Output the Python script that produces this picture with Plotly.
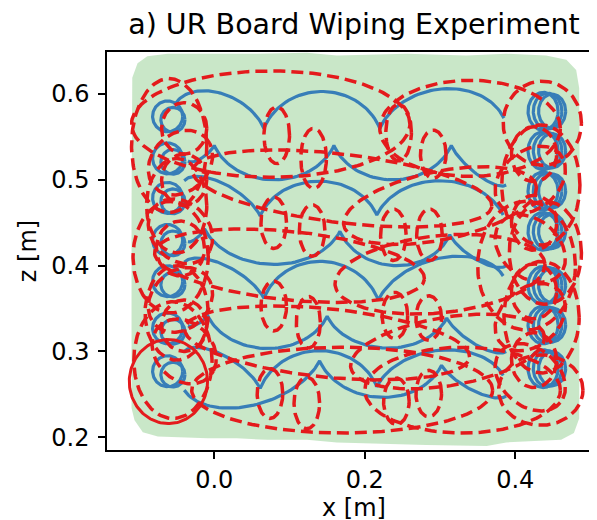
import numpy as np
import plotly.graph_objects as go

# ---------------- data ----------------
x_ticks = [0.0, 0.2, 0.4]
x_ticklabels = ["0.0", "0.2", "0.4"]
y_ticks = [0.2, 0.3, 0.4, 0.5, 0.6]
y_ticklabels = ["0.2", "0.3", "0.4", "0.5", "0.6"]

# wiped board area (boundary)
green_x = [-0.109, -0.102, -0.089, -0.062, 0.057, 0.123, 0.163, 0.256, 0.335, 0.388, 0.441, 0.468,
           0.481, 0.485, 0.486, 0.486, 0.485, 0.478, 0.461, 0.388, 0.362, 0.282, 0.229, 0.163,
           0.123, 0.070, 0.030, -0.009, -0.075, -0.095, -0.106, -0.110, -0.110]
green_y = [0.619, 0.636, 0.644, 0.647, 0.647, 0.648, 0.645, 0.647, 0.645, 0.647, 0.645, 0.640,
           0.628, 0.607, 0.467, 0.315, 0.222, 0.205, 0.197, 0.194, 0.190, 0.191, 0.192, 0.194,
           0.197, 0.197, 0.199, 0.199, 0.201, 0.206, 0.220, 0.234, 0.467]

# blue trajectory: horizontal passes (knots, knot heights, arch bulges)
rows_x = [
    [-0.053, 0.066, 0.220, 0.385],
    [-0.035, 0.000, 0.159, 0.315, 0.388],
    [-0.040, 0.061, 0.216, 0.384],
    [-0.035, -0.013, 0.167, 0.313, 0.388],
    [-0.040, 0.066, 0.218, 0.384],
    [-0.035, -0.009, 0.150, 0.309, 0.388],
    [-0.040, 0.061, 0.216, 0.384],
    [-0.040, 0.140, 0.302, 0.388],
]
rows_y = [
    [0.587, 0.560, 0.560, 0.572],
    [0.522, 0.540, 0.540, 0.540, 0.494],
    [0.499, 0.458, 0.459, 0.459],
    [0.428, 0.443, 0.440, 0.436, 0.400],
    [0.404, 0.362, 0.360, 0.388],
    [0.330, 0.342, 0.341, 0.339, 0.300],
    [0.300, 0.257, 0.259, 0.272],
    [0.255, 0.289, 0.284, 0.248],
]
rows_bulge = [
    [0.028, 0.043, 0.040],
    [-0.006, -0.040, -0.040, -0.012],
    [0.018, 0.040, 0.040],
    [-0.004, -0.040, -0.038, -0.012],
    [0.018, 0.044, 0.035],
    [-0.004, -0.038, -0.036, -0.012],
    [0.018, 0.043, 0.036],
    [-0.035, -0.040, -0.012],
]

# turn-around loops
left_loop_x = -0.062
left_loop_y = [0.574, 0.525, 0.479, 0.430, 0.382, 0.327, 0.277]
right_loop_x = 0.437
right_loop_y = [0.580, 0.534, 0.487, 0.440, 0.377, 0.331, 0.280]
loop_rx = 0.020
loop_ry = [0.018, 0.022]

# red covariance ellipses (dashed): small pairs, wide row ellipses, left column, right column
ell_cx = [0.083, 0.132, 0.245, 0.291, 0.079, 0.130, 0.238, 0.286, 0.079, 0.125, 0.240, 0.285,
          0.074, 0.123, 0.242, 0.285,
          0.075, 0.340, 0.170, 0.300, 0.100, 0.300, 0.150, 0.310, 0.170, 0.330,
          -0.060, -0.050, -0.058, -0.050, -0.055, -0.040, -0.045, -0.040, -0.040,
          -0.045, -0.045, -0.045, -0.040,
          0.436, 0.434, 0.440, 0.435, 0.434, 0.425, 0.425, 0.425, 0.425,
          0.420, 0.420, 0.420, 0.420, 0.415]
ell_cy = [0.552, 0.525, 0.555, 0.530, 0.450, 0.441, 0.436, 0.436, 0.353, 0.334, 0.342, 0.339,
          0.251, 0.240, 0.242, 0.251,
          0.565, 0.560, 0.490, 0.470, 0.400, 0.390, 0.310, 0.300, 0.255, 0.255,
          0.540, 0.470, 0.410, 0.345, 0.290, 0.500, 0.420, 0.330, 0.560,
          0.520, 0.440, 0.360, 0.300,
          0.566, 0.494, 0.415, 0.340, 0.255, 0.530, 0.450, 0.370, 0.290,
          0.500, 0.420, 0.340, 0.270, 0.400]
ell_rx = [0.017, 0.017, 0.017, 0.017, 0.017, 0.017, 0.017, 0.017, 0.017, 0.016, 0.017, 0.017,
          0.017, 0.017, 0.017, 0.017,
          0.185, 0.120, 0.200, 0.130, 0.180, 0.140, 0.190, 0.130, 0.200, 0.130,
          0.050, 0.040, 0.050, 0.042, 0.052, 0.030, 0.032, 0.030, 0.030,
          0.045, 0.045, 0.045, 0.045,
          0.052, 0.052, 0.048, 0.050, 0.056, 0.030, 0.030, 0.030, 0.030,
          0.050, 0.050, 0.050, 0.050, 0.065]
ell_ry = [0.033, 0.035, 0.033, 0.028, 0.030, 0.030, 0.030, 0.030, 0.029, 0.030, 0.027, 0.026,
          0.029, 0.030, 0.027, 0.027,
          0.062, 0.056, 0.040, 0.040, 0.040, 0.045, 0.040, 0.040, 0.050, 0.050,
          0.078, 0.055, 0.065, 0.055, 0.068, 0.030, 0.032, 0.030, 0.030,
          0.035, 0.035, 0.035, 0.035,
          0.049, 0.070, 0.060, 0.065, 0.041, 0.032, 0.032, 0.032, 0.032,
          0.035, 0.035, 0.035, 0.035, 0.075]
ell_ang = ([0] * 16 + [0, 0, -6, 10, -5, 5, -5, 8, 0, 0] + [0] * 9 + [30, -30, 30, -30]
           + [0] * 9 + [30, -30, 30, -30, 0])

# solid red ellipse (start)
solid_cx, solid_cy, solid_rx, solid_ry = -0.061, 0.265, 0.052, 0.049


# ---------------- geometry helpers ----------------
def ellipse_pts(cx, cy, rx, ry, ang=0.0, n=160):
    t = np.linspace(0, 2 * np.pi, n)
    a = np.deg2rad(ang)
    ex, ey = rx * np.cos(t), ry * np.sin(t)
    return cx + ex * np.cos(a) - ey * np.sin(a), cy + ex * np.sin(a) + ey * np.cos(a)


def row_pts(xs, ys, bulges, t0=0.35, n=50):
    X, Y = [], []
    for i in range(len(bulges)):
        t = np.linspace(t0, np.pi - t0, n)
        s = (1 - np.cos(t) / np.cos(t0)) / 2
        sh = (np.sin(t) - np.sin(t0)) / (1 - np.sin(t0))
        x = xs[i] + (xs[i + 1] - xs[i]) * s
        y = ys[i] + (ys[i + 1] - ys[i]) * s + bulges[i] * sh
        if i > 0:
            x, y = x[1:], y[1:]
        X.extend(x.tolist())
        Y.extend(y.tolist())
    return X, Y


# ---------------- build traces ----------------
bx, by = [], []
for xs, ys, bs in zip(rows_x, rows_y, rows_bulge):
    x, y = row_pts(xs, ys, bs)
    bx += x + [None]
    by += y + [None]
for cy in left_loop_y:
    for dx, dy, k in [(0, 0, 1.0), (0.007, -0.004, 0.8)]:
        x, y = ellipse_pts(left_loop_x + dx, cy + dy, loop_rx * k, loop_ry[0] * k)
        bx += x.tolist() + [None]
        by += y.tolist() + [None]
for cy in right_loop_y:
    for dx, dy, k in [(0, 0, 1.0), (0.006, 0.0, 0.95), (0.012, 0.0, 0.9)]:
        x, y = ellipse_pts(right_loop_x + dx, cy + dy, loop_rx * k, loop_ry[1] * k)
        bx += x.tolist() + [None]
        by += y.tolist() + [None]

rx_, ry_ = [], []
for cx, cy, a, b, ang in zip(ell_cx, ell_cy, ell_rx, ell_ry, ell_ang):
    x, y = ellipse_pts(cx, cy, a, b, ang)
    rx_ += x.tolist() + [None]
    ry_ += y.tolist() + [None]

sx, sy = ellipse_pts(solid_cx, solid_cy, solid_rx, solid_ry)

fig = go.Figure()
fig.add_trace(go.Scatter(x=green_x, y=green_y, fill="toself", mode="lines",
                         line=dict(width=0, color="rgba(77,175,74,0)"),
                         fillcolor="rgba(77,175,74,0.3)", hoverinfo="skip"))
fig.add_trace(go.Scatter(x=bx, y=by, mode="lines", line=dict(color="#377eb8", width=3.2),
                         connectgaps=False))
fig.add_trace(go.Scatter(x=rx_, y=ry_, mode="lines",
                         line=dict(color="#e41a1c", width=3.5, dash="12px,6px"),
                         connectgaps=False))
fig.add_trace(go.Scatter(x=sx, y=sy, mode="lines", line=dict(color="#e41a1c", width=3)))

font = "DejaVu Sans, Arial, sans-serif"
axis_common = dict(showgrid=False, zeroline=False, showline=True, linecolor="black", linewidth=1.5,
                   mirror=True, ticks="outside", ticklen=7, tickwidth=1.5, tickcolor="black",
                   tickfont=dict(family=font, size=24, color="black"))
fig.update_layout(
    width=597, height=520,
    margin=dict(l=99, r=2, t=44, b=78),
    paper_bgcolor="white", plot_bgcolor="white",
    showlegend=False,
    title=dict(text="a) UR Board Wiping Experiment", x=0.5, xref="paper", y=1 - 6 / 520,
               yref="container", xanchor="center", yanchor="top",
               font=dict(family=font, size=28.5, color="black")),
    xaxis=dict(range=[-0.1426, 0.514], tickvals=x_ticks, ticktext=x_ticklabels,
               ticklabelstandoff=0,
               title=dict(text="x [m]", font=dict(family=font, size=24, color="black"), standoff=0),
               **axis_common),
    yaxis=dict(range=[0.1852, 0.649], tickvals=y_ticks, ticktext=y_ticklabels,
               ticklabelstandoff=4,
               title=dict(text="z [m]", font=dict(family=font, size=24, color="black"), standoff=8),
               **axis_common),
)
fig.write_html("out.html")
